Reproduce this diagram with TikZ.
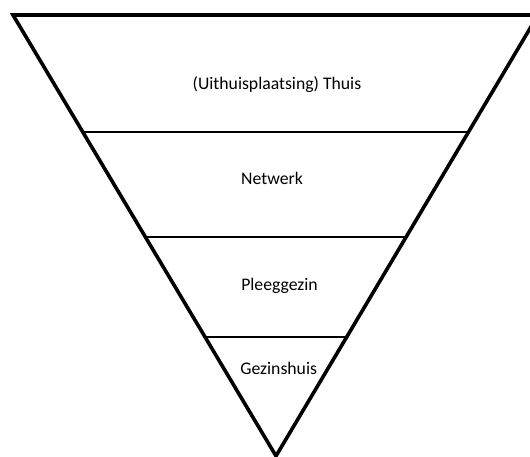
\documentclass[tikz,border=0pt]{standalone}
\usepackage{fontspec}
\setmainfont{Carlito}
\usetikzlibrary{calc}
\begin{document}
\begin{tikzpicture}[x=1pt,y=-1pt,
  edge/.style={line width=3.6pt,line join=miter},
  divider/.style={line width=2pt},
  lbl/.style={anchor=base,inner sep=0pt,font=\fontsize{17.7pt}{20pt}\selectfont}]
\useasboundingbox (0,0) rectangle (530,457);
\clip (0,0) rectangle (530,457);
\coordinate (tl) at (13,15);
\coordinate (tr) at (538,15);
\coordinate (apex) at (276,456);
\coordinate (l1) at ($(tl)!0.2653!(apex)$);
\coordinate (r1) at ($(tr)!0.2653!(apex)$);
\coordinate (l2) at ($(tl)!0.5034!(apex)$);
\coordinate (r2) at ($(tr)!0.5034!(apex)$);
\coordinate (l3) at ($(tl)!0.730!(apex)$);
\coordinate (r3) at ($(tr)!0.730!(apex)$);
\draw[divider] (l1) -- (r1);
\draw[divider] (l2) -- (r2);
\draw[divider] (l3) -- (r3);
\draw[edge] (tl) -- (tr) -- (apex) -- cycle;
\node[lbl] (thuis) at (277,89.5) {(Uithuisplaatsing) Thuis};
\node[lbl] (netwerk) at (272,185) {Netwerk};
\node[lbl] (pleeg) at (279.5,290) {Pleeggezin};
\node[lbl] (gezin) at (278.7,374.5) {Gezinshuis};
\end{tikzpicture}
\end{document}
